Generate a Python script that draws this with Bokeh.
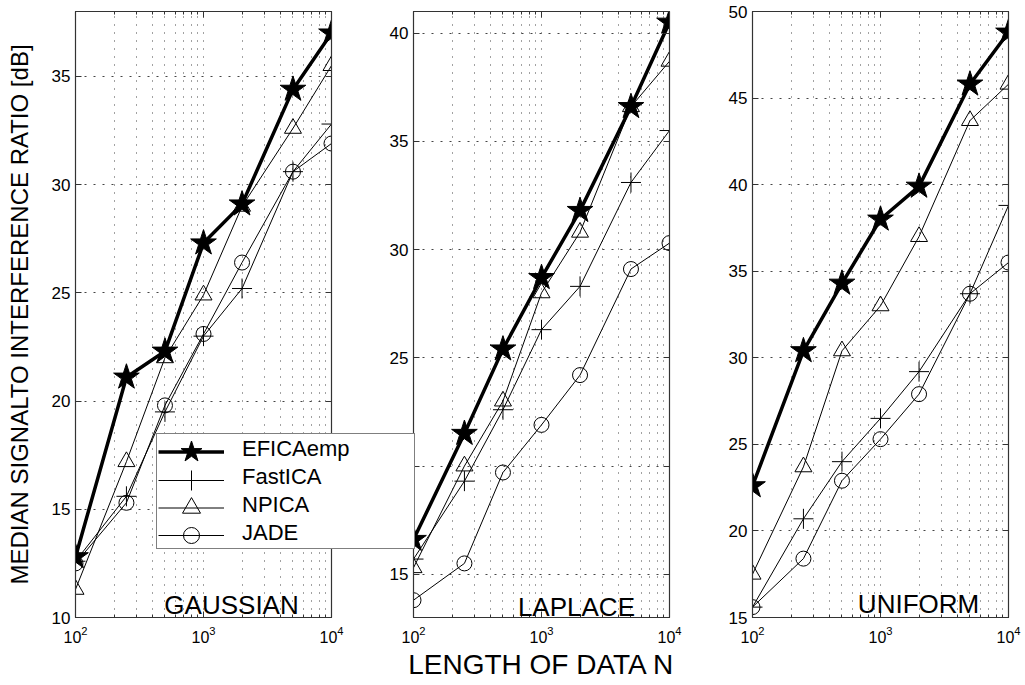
from bokeh.plotting import figure
from bokeh.models import (FixedTicker, LinearAxis, LogAxis, Legend, LegendItem,
                          Label, Range1d)
from bokeh.layouts import row
from bokeh.embed import file_html
from bokeh.resources import INLINE

# ---------------- data ----------------
N = [100, 250, 500, 1000, 2000, 5000, 10000]

gauss_efica   = [12.8, 21.1, 22.3, 27.3, 29.1, 34.4, 37.0]
gauss_fastica = [12.6, 15.6, 19.5, 23.0, 25.2, 30.6, 32.8]
gauss_npica   = [11.3, 17.2, 22.0, 24.9, 29.0, 32.6, 35.5]
gauss_jade    = [12.5, 15.3, 19.8, 23.1, 26.4, 30.6, 31.9]

laplace_efica   = [16.6, 21.5, 25.4, 28.7, 31.8, 36.6, 40.5]
laplace_fastica = [15.7, 19.3, 22.6, 26.3, 28.3, 33.1, 35.5]
laplace_npica   = [15.3, 20.0, 23.0, 28.0, 30.8, 36.6, 38.7]
laplace_jade    = [13.8, 15.5, 19.7, 21.9, 24.2, 29.1, 30.3]

uniform_efica   = [22.6, 30.4, 34.3, 38.0, 39.9, 45.8, 48.8]
uniform_fastica = [15.6, 20.7, 24.0, 26.5, 29.2, 33.7, 38.8]
uniform_npica   = [17.5, 23.7, 30.4, 33.0, 37.0, 43.7, 45.8]
uniform_jade    = [15.6, 18.4, 22.9, 25.3, 27.9, 33.7, 35.5]

methods = ["EFICAemp", "FastICA", "NPICA", "JADE"]
panel_names = ["GAUSSIAN", "LAPLACE", "UNIFORM"]
y_ranges = [(10, 38), (13, 41), (15, 50)]
y_ticks = [[10, 15, 20, 25, 30, 35], [15, 20, 25, 30, 35, 40],
           [15, 20, 25, 30, 35, 40, 45, 50]]
x_ticks = [100, 1000, 10000]
x_minor = [m * d for d in (100, 1000) for m in range(2, 10)]
panel_data = [
    [gauss_efica, gauss_fastica, gauss_npica, gauss_jade],
    [laplace_efica, laplace_fastica, laplace_npica, laplace_jade],
    [uniform_efica, uniform_fastica, uniform_npica, uniform_jade],
]
# panel text placement (data coords)
label_pos = [(1656, 10.6), (1875, 13.5), (1982, 15.8)]

# ---------------- styles ----------------
FONT = "Liberation Sans"
H = 684
BOTTOM = 67
styles = {
    "EFICAemp": dict(marker="star", size=27, lw=3.5, fill="black", lg=55),
    "FastICA": dict(marker="cross", size=20, lw=1.0, fill=None, lg=50),
    "NPICA": dict(marker="triangle", size=17, lw=1.0, fill=None, lg=45),
    "JADE": dict(marker="circle", size=15, lw=1.0, fill=None, lg=40),
}
geom = [  # width, min_border_left, min_border_right
    (352, 75, 21),
    (348, 61, 31),
    (325, 52, 17),
]


def make_panel(i):
    w, bl, br = geom[i]
    p = figure(width=w, height=H, x_axis_type="log", title=None,
               x_range=Range1d(100, 10000), y_range=Range1d(*y_ranges[i]),
               output_backend="svg", toolbar_location=None,
               min_border_left=bl, min_border_right=br,
               min_border_top=11, min_border_bottom=BOTTOM)
    p.border_fill_alpha = 0
    p.background_fill_color = "white"
    p.outline_line_color = "#333333"
    p.outline_line_width = 1.2

    p.xaxis.ticker = FixedTicker(ticks=x_ticks, minor_ticks=x_minor)
    p.yaxis.ticker = FixedTicker(ticks=y_ticks[i])

    for ax in (p.xaxis[0], p.yaxis[0]):
        ax.axis_line_color = "#333333"
        ax.major_tick_in = 6
        ax.major_tick_out = 0
        ax.minor_tick_in = 3
        ax.minor_tick_out = 0
        ax.major_tick_line_color = "#333333"
        ax.minor_tick_line_color = "#333333"
        ax.major_label_text_font = FONT
        ax.major_label_text_color = "black"
    p.yaxis.minor_tick_line_color = None
    p.yaxis.major_label_text_font_size = "17px"
    p.yaxis.major_label_standoff = 5
    p.xaxis.major_label_text_font_size = "16px"
    p.xaxis.major_label_standoff = 8

    # box ticks on right and top (labels invisible)
    ra = LinearAxis(ticker=FixedTicker(ticks=y_ticks[i]),
                    major_label_text_font_size="1px", major_label_text_alpha=0,
                    major_label_standoff=0,
                    major_tick_in=6, major_tick_out=0,
                    minor_tick_line_color=None,
                    axis_line_color="#333333", major_tick_line_color="#333333")
    p.add_layout(ra, "right")
    ta = LogAxis(ticker=FixedTicker(ticks=x_ticks, minor_ticks=x_minor),
                 major_label_text_font_size="1px", major_label_text_alpha=0,
                 major_label_standoff=0,
                 major_tick_in=6, major_tick_out=0,
                 minor_tick_in=3, minor_tick_out=0,
                 axis_line_color="#333333", major_tick_line_color="#333333",
                 minor_tick_line_color="#333333")
    p.add_layout(ta, "above")

    # dotted grid
    p.xgrid.grid_line_color = "#444444"
    p.xgrid.grid_line_dash = "1 7"
    p.xgrid.minor_grid_line_color = "#444444"
    p.xgrid.minor_grid_line_dash = "1 7"
    p.ygrid.grid_line_color = "#444444"
    p.ygrid.grid_line_dash = "2 7"

    for name, ys in zip(methods, panel_data[i]):
        st = styles[name]
        p.line(N, ys, line_color="black", line_width=st["lw"])
        p.scatter(N, ys, marker=st["marker"], size=st["size"],
                  line_color="black", line_width=1.0, fill_color=st["fill"])

    lx, ly = label_pos[i]
    p.add_layout(Label(x=lx, y=ly, text=panel_names[i], text_align="center",
                       text_baseline="alphabetic", text_font=FONT,
                       text_font_size="26px", text_color="black"))
    return p


p1 = make_panel(0)
p2 = make_panel(1)
p3 = make_panel(2)

yl = p1.left[0]
yl.axis_label = "MEDIAN SIGNALTO INTERFERENCE RATIO [dB]"
yl.axis_label_text_font = FONT
yl.axis_label_text_font_size = "24px"
yl.axis_label_text_font_style = "normal"
yl.axis_label_text_color = "black"
yl.axis_label_standoff = 16

xl = p2.below[0]
xl.axis_label = "LENGTH OF DATA N"
xl.axis_label_text_font = FONT
xl.axis_label_text_font_size = "28px"
xl.axis_label_text_font_style = "normal"
xl.axis_label_text_color = "black"
xl.axis_label_standoff = 3

# ---- legend: transparent overlay figure spanning panels 1 and 2 ----
OVW = 262
ov = figure(width=OVW, height=H, title=None, x_range=Range1d(0, 1),
            y_range=Range1d(0, 1), output_backend="svg",
            toolbar_location=None, x_axis_location=None,
            y_axis_location=None, min_border=0, outline_line_color=None)
ov.background_fill_alpha = 0
ov.border_fill_alpha = 0
ov.xgrid.visible = False
ov.ygrid.visible = False

# main legend box with the labels (sample glyph drawn by the legends below)
text_items = []
for name, ys in zip(methods, panel_data[0]):
    ghost = ov.line(N, ys, line_alpha=0)
    text_items.append(LegendItem(label=name, renderers=[ghost]))
LEG_VY = 68
main_legend = Legend(items=text_items, location=(0, LEG_VY),
                     label_text_font=FONT, label_text_font_size="22px",
                     label_text_color="black",
                     glyph_width=66, glyph_height=25, label_standoff=17,
                     label_width=170, label_height=25,
                     padding=2, spacing=2, margin=0,
                     border_line_color="black", border_line_width=1,
                     background_fill_color="white", background_fill_alpha=1)
ov.add_layout(main_legend)

# sample glyph legends (large markers), one per series, stacked on the rows
ROW0 = LEG_VY + 97      # centre of first row above frame bottom
for k, (name, ys) in enumerate(zip(methods, panel_data[0])):
    st = styles[name]
    ln = ov.line(N, ys, line_color="black", line_width=st["lw"])
    sc = ov.scatter(N, ys, marker=st["marker"], line_color="black",
                    line_width=1.0, fill_color=st["fill"])
    centre = ROW0 - 27.7 * k
    g = Legend(items=[LegendItem(label="", renderers=[ln, sc])],
               location=(2, int(round(centre - st["lg"] / 2))),
               glyph_width=66, glyph_height=st["lg"], label_standoff=0,
               label_width=0, label_height=0, label_text_font_size="1px",
               padding=0, spacing=0, margin=0,
               border_line_color=None, background_fill_alpha=0)
    ov.add_layout(g)

ov.styles = {"margin-left": "-196px", "z-index": "5"}
p1.styles = {"z-index": "1"}
p2.styles = {"margin-left": "-66px", "z-index": "1"}
p3.styles = {"z-index": "1"}

layout = row(p1, ov, p2, p3)
open("out.html", "w").write(file_html(layout, INLINE))
